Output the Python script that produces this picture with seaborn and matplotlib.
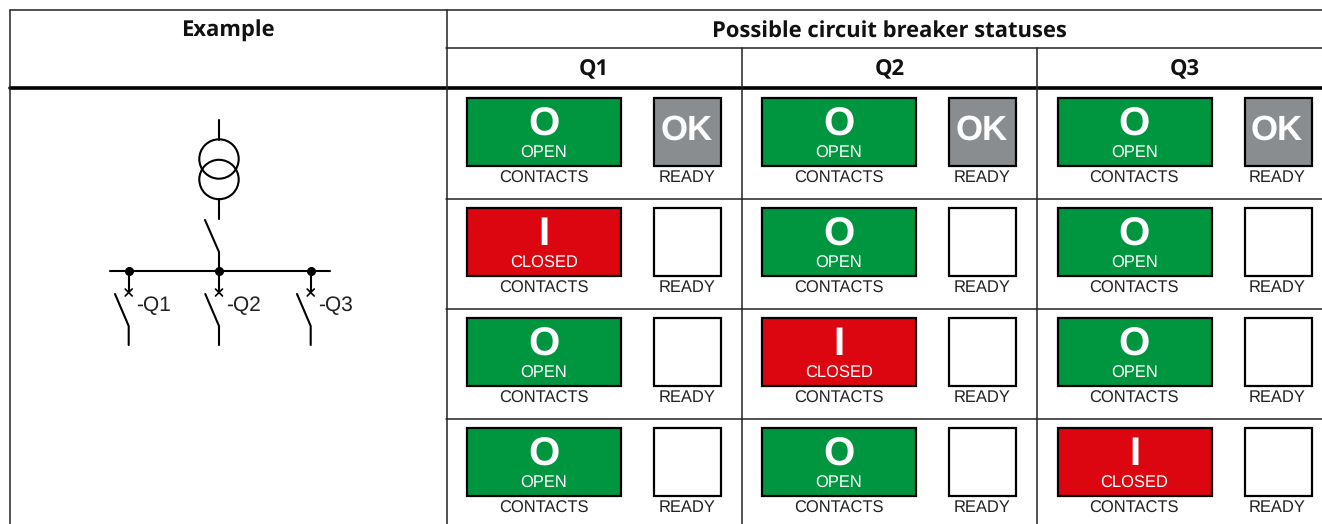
import matplotlib
matplotlib.use('Agg')
import matplotlib.pyplot as plt
from matplotlib.patches import Rectangle, Circle
import seaborn as sns

breakers = ['Q1', 'Q2', 'Q3']
# status of Q1, Q2, Q3 for each table row
row_status = [
    ['open', 'open', 'open'],
    ['closed', 'open', 'open'],
    ['open', 'closed', 'open'],
    ['open', 'open', 'closed'],
]
ready_ok = [True, False, False, False]
status_text = {'open': ('O', 'OPEN'), 'closed': ('I', 'CLOSED')}
status_color = {'open': '#009640', 'closed': '#dc0610'}
ok_color = '#8a8d90'

sns.set_style('white')
plt.rcParams['text.hinting'] = 'none'
LABEL_FONT = 'Liberation Sans'

fig = plt.figure(figsize=(13.22, 5.24), dpi=100)
ax = fig.add_axes([0, 0, 1, 1])
ax.set_xlim(0, 1322)
ax.set_ylim(524, 0)
ax.axis('off')

grid = '#222222'
# table lines
ax.plot([9.5, 1322], [10, 10], color=grid, lw=1.1)
ax.plot([446, 1322], [48, 48], color=grid, lw=1.1)
ax.plot([9.5, 1322], [87.5, 87.5], color='black', lw=2.6)
for y in [199, 309, 419]:
    ax.plot([446, 1322], [y, y], color=grid, lw=1.1)
ax.plot([9.5, 9.5], [10, 524], color=grid, lw=1.1)
ax.plot([446.5, 446.5], [10, 524], color=grid, lw=1.1)
for x in [742, 1037]:
    ax.plot([x, x], [48, 524], color=grid, lw=1.1)

# headers
head = dict(family='Open Sans', weight='bold', fontsize=15.8, ha='center', va='center', color='#111111')
ax.text(227.5, 31, 'Example', **head)
ax.text(889.5, 31, 'Possible circuit breaker statuses', **head)
for i, name in enumerate(breakers):
    ax.text([594, 889.5, 1185][i], 70, name, **head)

# status boxes
col_x = [467, 762, 1057.5]
row_y = [98, 208, 318, 428]
label = dict(family=LABEL_FONT, fontsize=11.9, ha='center', va='center')
for r, statuses in enumerate(row_status):
    for c, st in enumerate(statuses):
        x, y = col_x[c], row_y[r]
        ax.add_patch(Rectangle((x, y), 154, 68, fc=status_color[st], ec='black', lw=1.6))
        big, small = status_text[st]
        ax.text(x + 77, y + 27, big, color='white', fontsize=29, weight='bold',
                family=LABEL_FONT, ha='center', va='center')
        ax.text(x + 77, y + 55, small, color='white', **label)
        ax.text(x + 76.5, y + 80, 'CONTACTS', color='#222222', **label)
        fill = ok_color if ready_ok[r] else 'white'
        ax.add_patch(Rectangle((x + 187, y), 67, 68, fc=fill, ec='black', lw=1.6))
        if ready_ok[r]:
            ax.text(x + 219.5, y + 33, 'OK', color='white', fontsize=25, weight='bold',
                    family=LABEL_FONT, ha='center', va='center')
        ax.text(x + 220, y + 80, 'READY', color='#222222', **label)

# single line diagram
lw = 1.5
ax.plot([219, 219], [120, 140], color='black', lw=lw)
ax.plot([219, 219], [199, 219], color='black', lw=lw)
for cy in [159, 179.5]:
    ax.add_patch(Circle((219, cy), 19.7, fc='none', ec='black', lw=lw))
ax.plot([205, 219, 219], [220, 252, 271], color='black', lw=lw)
ax.plot([110, 330], [271, 271], color='black', lw=lw)
for x, name in zip([128.7, 219, 310.7], breakers):
    ax.plot([x], [271], 'o', color='black', ms=5.5)
    ax.plot([x, x], [271, 292], color='black', lw=lw)
    ax.plot([x - 3.5, x + 3.5], [289, 296], color='black', lw=1.2)
    ax.plot([x - 3.5, x + 3.5], [296, 289], color='black', lw=1.2)
    ax.plot([x - 13.7, x, x], [294, 326, 345], color='black', lw=lw)
    ax.text(x + 7, 306, '-' + name, color='#222222', fontsize=15, family=LABEL_FONT, ha='left', va='center')

fig.savefig('out.png', dpi=100)
